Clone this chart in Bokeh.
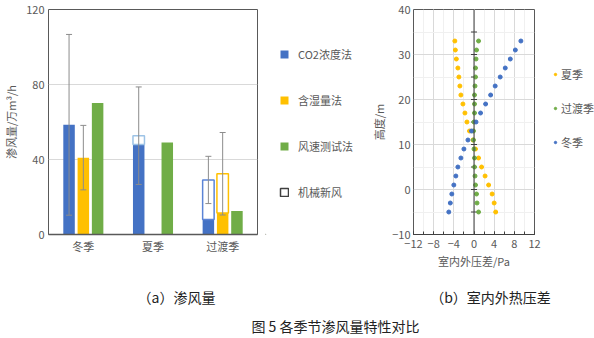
from bokeh.plotting import figure
from bokeh.models import (ColumnDataSource, Legend, LegendItem, FixedTicker, Span)
from bokeh.transform import dodge
from bokeh.layouts import column, row
from bokeh.core.properties import value
from bokeh.embed import file_html
from bokeh.resources import INLINE

# ---------------- data: (a) infiltration ----------------
categories = ["冬季", "夏季", "过渡季"]
co2_fill = [58.5, 48.0, 8.0]          # CO2浓度法 (solid part)
co2_mech = [0.0, 4.7, 21.1]           # 机械新风 (outlined part on CO2 bar)
co2_err = [48.2, 26.0, 12.6]
humid_fill = [41.0, None, 11.5]       # 含湿量法
humid_mech = [0.0, None, 20.9]
humid_err = [17.2, None, 22.0]
wind = [70.2, 49.1, 12.6]             # 风速测试法
co2_outline_colors = ["#4472C4", "#9DC3E6", "#5B84D6"]
humid_outline_colors = ["#FFC000", "#FFC000", "#FFC000"]
left_ticks = [0, 40, 80, 120]
legend_a = ["CO2浓度法", "含湿量法", "风速测试法", "机械新风"]

# ---------------- data: (b) pressure difference ----------------
heights = [33, 31, 29, 27, 25, 23, 21, 19, 17, 15, 13, 11, 9, 7, 5, 3, 1, -1, -3, -5]
summer_dp = [-3.8, -3.7, -3.5, -3.2, -3.0, -2.8, -2.6, -2.2, -1.8, -1.4,
             -0.9, -0.2, 0.3, 0.9, 1.5, 2.2, 2.9, 3.6, 4.0, 4.3]
transition_dp = [0.9, 0.5, 0.4, 0.3, 0.3, 0.2, 0.1, 0.1, 0.1, 0.0,
                 -0.1, -0.1, 0.0, 0.1, 0.1, 0.2, 0.3, 0.5, 0.6, 0.9]
winter_dp = [9.3, 8.2, 7.2, 6.2, 5.2, 4.2, 3.3, 2.3, 1.3, 0.4,
             -0.5, -1.2, -2.0, -2.6, -3.2, -3.6, -4.0, -4.4, -4.7, -5.0]
legend_b = ["夏季", "过渡季", "冬季"]
x_ticks = [-12, -8, -4, 0, 4, 8, 12]
x_minor = [-12, -10, -8, -6, -4, -2, 0, 2, 4, 6, 8, 10, 12]
y_ticks = [-10, 0, 10, 20, 30, 40]
y_minor = [-5, 5, 15, 25, 35]

FONT = "Noto Sans CJK SC"
TXT = "#595959"
BLUE, YELLOW, GREEN = "#4472C4", "#FFC000", "#70AD47"
H = 278
W1, WL1, W2 = 265, 97, 180


def blank_fig(w):
    f = figure(x_range=(0, 1), y_range=(0, 1), width=w, height=H,
               output_backend="svg", toolbar_location=None,
               min_border_left=0, min_border_right=0, min_border_top=0, min_border_bottom=0)
    f.axis.visible = False
    f.grid.grid_line_color = None
    f.outline_line_color = None
    return f


# ================= left figure =================
p1 = figure(x_range=categories, y_range=(0, 120), width=W1, height=H,
            output_backend="svg", toolbar_location=None,
            min_border_left=46, min_border_right=8, min_border_top=9, min_border_bottom=43)
p1.outline_line_color = "#595959"
p1.outline_line_width = 1
p1.xgrid.grid_line_color = None
p1.ygrid.grid_line_color = "#D9D9D9"
p1.yaxis.ticker = FixedTicker(ticks=left_ticks)
p1.yaxis.axis_line_color = None
p1.yaxis.major_tick_line_color = None
p1.yaxis.minor_tick_line_color = None
p1.yaxis.major_tick_out = 0
p1.yaxis.major_label_text_font = FONT
p1.yaxis.major_label_text_font_size = "11px"
p1.yaxis.major_label_text_color = TXT
p1.yaxis.major_label_standoff = 4
p1.yaxis.axis_label = "渗风量/万m³/h"
p1.yaxis.axis_label_text_font = FONT
p1.yaxis.axis_label_text_font_size = "11px"
p1.yaxis.axis_label_text_font_style = "normal"
p1.yaxis.axis_label_text_color = TXT
p1.yaxis.axis_label_standoff = 4
p1.xaxis.axis_line_color = "#595959"
p1.xaxis.axis_line_width = 1.5
p1.xaxis.major_tick_line_color = None
p1.xaxis.minor_tick_line_color = None
p1.xaxis.major_tick_out = 0
p1.xaxis.major_label_text_font = FONT
p1.xaxis.major_label_text_font_size = "11px"
p1.xaxis.major_label_text_color = TXT
p1.xaxis.major_label_standoff = 3

OFF = 0.205
BW = 0.165


def series_sources(fill, mech, err, outline_colors):
    xs, f, mb, mt, lc, lo = [], [], [], [], [], []
    exs, elo, ehi = [], [], []
    for c, a, m, e, col in zip(categories, fill, mech, err, outline_colors):
        if a is None:
            continue
        xs.append(c); f.append(a)
        if m:
            mb.append(a); mt.append(a + m); lc.append(col); lo.append(c)
        if e is not None:
            tot = a + (m or 0)
            exs.append(c); elo.append(tot - e); ehi.append(tot + e)
    fill_src = ColumnDataSource(dict(x=xs, top=f))
    mech_src = ColumnDataSource(dict(x=lo, bottom=mb, top=mt, lc=lc))
    err_src = ColumnDataSource(dict(x=exs, lo=elo, hi=ehi))
    return fill_src, mech_src, err_src


co2_s, co2_m, co2_e = series_sources(co2_fill, co2_mech, co2_err, co2_outline_colors)
hum_s, hum_m, hum_e = series_sources(humid_fill, humid_mech, humid_err, humid_outline_colors)
wind_s = ColumnDataSource(dict(x=categories, top=wind))

p1.vbar(x=dodge("x", -OFF, range=p1.x_range), top="top", width=BW, source=co2_s,
        fill_color=BLUE, line_color=None)
p1.vbar(x=dodge("x", -OFF, range=p1.x_range), bottom="bottom", top="top", width=BW, source=co2_m,
        fill_color="white", line_color="lc", line_width=1.5)
p1.vbar(x=dodge("x", 0, range=p1.x_range), top="top", width=BW, source=hum_s,
        fill_color=YELLOW, line_color=None)
p1.vbar(x=dodge("x", 0, range=p1.x_range), bottom="bottom", top="top", width=BW, source=hum_m,
        fill_color="white", line_color="lc", line_width=1.5)
p1.vbar(x=dodge("x", OFF, range=p1.x_range), top="top", width=BW, source=wind_s,
        fill_color=GREEN, line_color=None)

for src, off in ((co2_e, -OFF), (hum_e, 0)):
    xd = dodge("x", off, range=p1.x_range)
    p1.segment(x0=xd, x1=xd, y0="lo", y1="hi", source=src, line_color="#8C8C8C", line_width=1)
    p1.scatter(x=xd, y="lo", source=src, marker="dash", size=6, line_color="#8C8C8C", line_width=1)
    p1.scatter(x=xd, y="hi", source=src, marker="dash", size=6, line_color="#8C8C8C", line_width=1)

# legend (a) in its own blank panel (dummy renderers lie outside the visible range)
pl1 = blank_fig(WL1)
styles_a = [dict(fill_color=BLUE, line_color=None),
            dict(fill_color=YELLOW, line_color=None),
            dict(fill_color=GREEN, line_color=None),
            dict(fill_color="white", line_color="#404040", line_width=1.5)]
items_a = []
for lab, st in zip(legend_a, styles_a):
    r = pl1.vbar(x=[-5], bottom=[-5], top=[-4], width=0.1, **st)
    items_a.append(LegendItem(label=lab, renderers=[r]))
leg1 = Legend(items=items_a, location=(14, 34), orientation="vertical", spacing=30,
              glyph_width=10, glyph_height=10, label_standoff=9, padding=0, margin=0,
              label_text_font=FONT, label_text_font_size="11px", label_text_color=TXT,
              border_line_color=None, background_fill_alpha=0)
pl1.add_layout(leg1, "center")

# ================= right figure =================
p2 = figure(x_range=(-12, 12), y_range=(-10, 40), width=W2, height=H,
            output_backend="svg", toolbar_location=None,
            min_border_left=51, min_border_right=8, min_border_top=8, min_border_bottom=44)
p2.outline_line_color = "#595959"
p2.outline_line_width = 1
p2.xaxis.ticker = FixedTicker(ticks=x_ticks, minor_ticks=x_minor)
p2.yaxis.ticker = FixedTicker(ticks=y_ticks, minor_ticks=y_minor)
p2.xgrid.grid_line_color = "#D9D9D9"
p2.ygrid.grid_line_color = "#D9D9D9"
p2.xgrid.minor_grid_line_color = "#F0F0F0"
p2.ygrid.minor_grid_line_color = "#F0F0F0"
p2.yaxis.axis_line_color = None
p2.yaxis.major_tick_line_color = None
p2.yaxis.minor_tick_line_color = None
p2.yaxis.major_tick_out = 0
p2.yaxis.minor_tick_out = 0
p2.xaxis.axis_line_color = "#404040"
p2.xaxis.major_tick_in = 3
p2.xaxis.major_tick_out = 0
p2.xaxis.minor_tick_in = 3
p2.xaxis.minor_tick_out = 0
p2.xaxis.major_tick_line_color = "#404040"
p2.xaxis.minor_tick_line_color = "#404040"
for ax in (p2.xaxis, p2.yaxis):
    ax.major_label_text_font = FONT
    ax.major_label_text_font_size = "11px"
    ax.major_label_text_color = TXT
    ax.axis_label_text_font = FONT
    ax.axis_label_text_font_size = "11px"
    ax.axis_label_text_font_style = "normal"
    ax.axis_label_text_color = TXT
p2.xaxis.major_label_standoff = 5
p2.xaxis.axis_label = "室内外压差/Pa"
p2.xaxis.axis_label_standoff = 2
p2.yaxis.major_label_standoff = 3
p2.yaxis.axis_label = "高度/m"
p2.yaxis.axis_label_standoff = 2

p2.add_layout(Span(location=0, dimension="height", line_color="#404040", line_width=1))
tick_src = ColumnDataSource(dict(y=y_ticks[1:-1] + y_minor))
p2.segment(x0=-0.6, x1=0.6, y0="y", y1="y", source=tick_src, line_color="#404040", line_width=1)

p2.scatter(summer_dp, heights, size=4, color=YELLOW)
p2.scatter(transition_dp, heights, size=4, color=GREEN)
p2.scatter(winter_dp, heights, size=4, color=BLUE)

# legend (b) in its own blank panel (dummy renderers lie outside the visible range)
pl2 = blank_fig(594 - W1 - WL1 - W2)
items_b = []
for lab, colr in zip(legend_b, [YELLOW, GREEN, BLUE]):
    r = pl2.scatter(x=[-5], y=[-5], size=4, color=colr)
    items_b.append(LegendItem(label=lab, renderers=[r]))
leg2 = Legend(items=items_b, location=(10, 84), orientation="vertical", spacing=18,
              glyph_width=6, glyph_height=6, label_standoff=3, padding=0, margin=0,
              label_text_font=FONT, label_text_font_size="11px", label_text_color=TXT,
              border_line_color=None, background_fill_alpha=0)
pl2.add_layout(leg2, "center")

# ================= captions =================
p3 = figure(x_range=(0, 594), y_range=(0, 60), width=594, height=60,
            output_backend="svg", toolbar_location=None,
            min_border_left=0, min_border_right=0, min_border_top=0, min_border_bottom=0)
p3.axis.visible = False
p3.grid.grid_line_color = None
p3.outline_line_color = None
cap_src = ColumnDataSource(dict(x=[176, 490, 335], y=[42, 42, 13],
                                t=["（a）渗风量", "（b）室内外热压差", "图 5 各季节渗风量特性对比"]))
p3.text(x="x", y="y", text="t", source=cap_src, text_align="center", text_baseline="middle",
        text_font=value(FONT), text_font_size="14px", text_color="#222222")

layout = column(row(p1, pl1, p2, pl2), p3)
open("out.html", "w").write(file_html(layout, INLINE))
